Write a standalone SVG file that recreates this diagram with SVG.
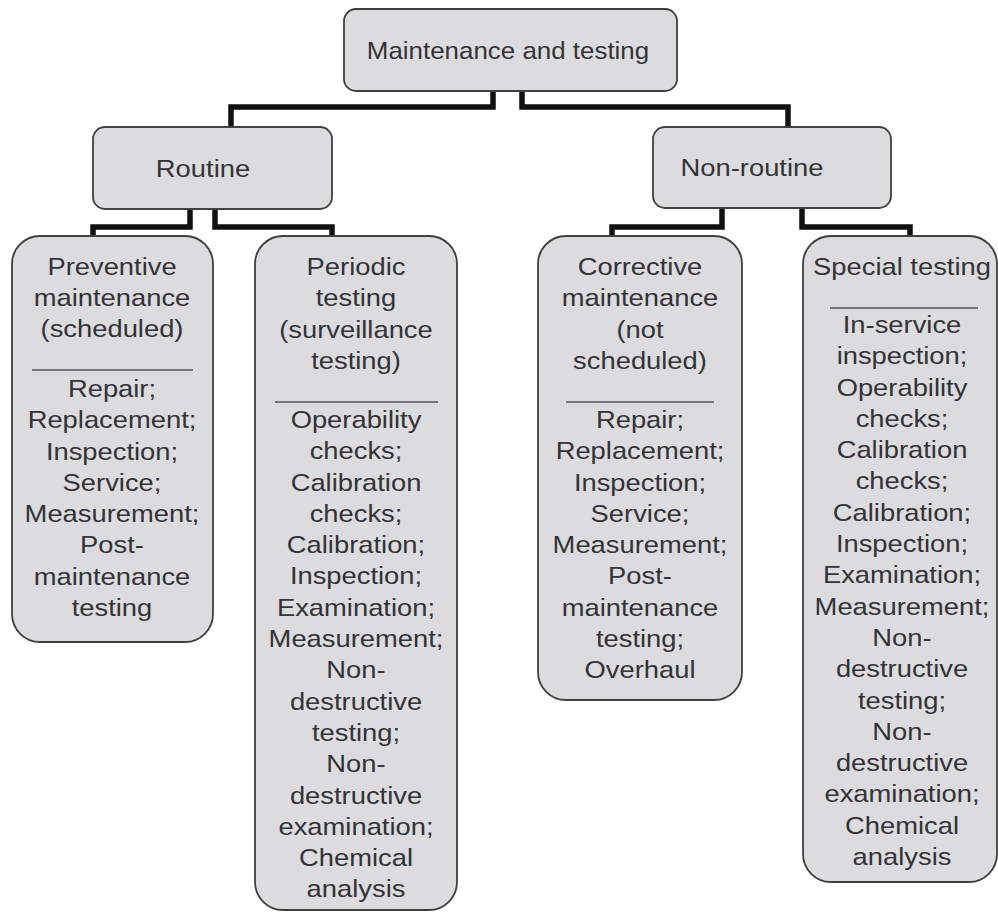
<svg xmlns="http://www.w3.org/2000/svg" width="998" height="913" viewBox="0 0 998 913">
<style>
.bg{fill:#ffffff}
.box{fill:#dcdcde;stroke:#404040;stroke-width:1.8}
.t{font-family:"Liberation Sans",Arial,sans-serif;font-size:24px;fill:#333338;text-anchor:middle}
.sep{stroke:#555;stroke-width:1.4}
.con{fill:none;stroke:#111;stroke-width:5.5;stroke-linejoin:miter}
</style>
<rect class="bg" x="0" y="0" width="998" height="913"/>
<g id="connectors">
<path class="con" d="M493,91 V107 H231 V127"/>
<path class="con" d="M522,91 V107 H788 V127"/>
<path class="con" d="M190,209 V227 H93 V236"/>
<path class="con" d="M215,209 V227 H332 V236"/>
<path class="con" d="M722,208 V227 H612 V236"/>
<path class="con" d="M802,208 V227 H910 V236"/>
</g>
<g id="top">
<rect class="box" x="344" y="9" width="333" height="82" rx="12"/>
<g transform="translate(508 0) scale(1.08 1)"><text class="t" x="0" y="59">Maintenance and testing</text></g>
</g>
<g id="routine">
<rect class="box" x="93" y="127" width="239" height="82" rx="12"/>
<g transform="translate(203 0) scale(1.14 1)"><text class="t" x="0" y="177">Routine</text></g>
</g>
<g id="nonroutine">
<rect class="box" x="653" y="127" width="238" height="81" rx="12"/>
<g transform="translate(752 0) scale(1.14 1)"><text class="t" x="0" y="176">Non-routine</text></g>
</g>
<g id="preventive">
<rect class="box" x="12" y="236" width="201" height="406" rx="28"/>
<line class="sep" x1="32" y1="370" x2="193" y2="370"/>
<g transform="translate(112 0) scale(1.14 1)">
<text class="t" x="0" y="275">Preventive</text>
<text class="t" x="0" y="306">maintenance</text>
<text class="t" x="0" y="337">(scheduled)</text>
<text class="t" x="0" y="397">Repair;</text>
<text class="t" x="0" y="428.3">Replacement;</text>
<text class="t" x="0" y="459.6">Inspection;</text>
<text class="t" x="0" y="490.9">Service;</text>
<text class="t" x="0" y="522.2">Measurement;</text>
<text class="t" x="0" y="553.5">Post-</text>
<text class="t" x="0" y="584.8">maintenance</text>
<text class="t" x="0" y="616.1">testing</text>
</g>
</g>
<g id="periodic">
<rect class="box" x="255" y="236" width="202" height="674" rx="28"/>
<line class="sep" x1="275" y1="402" x2="438" y2="402"/>
<g transform="translate(356 0) scale(1.14 1)">
<text class="t" x="0" y="275">Periodic</text>
<text class="t" x="0" y="306.3">testing</text>
<text class="t" x="0" y="337.6">(surveillance</text>
<text class="t" x="0" y="368.9">testing)</text>
<text class="t" x="0" y="428">Operability</text>
<text class="t" x="0" y="459.3">checks;</text>
<text class="t" x="0" y="490.6">Calibration</text>
<text class="t" x="0" y="521.9">checks;</text>
<text class="t" x="0" y="553.2">Calibration;</text>
<text class="t" x="0" y="584.5">Inspection;</text>
<text class="t" x="0" y="615.8">Examination;</text>
<text class="t" x="0" y="647.1">Measurement;</text>
<text class="t" x="0" y="678.4">Non-</text>
<text class="t" x="0" y="709.7">destructive</text>
<text class="t" x="0" y="741">testing;</text>
<text class="t" x="0" y="772.3">Non-</text>
<text class="t" x="0" y="803.6">destructive</text>
<text class="t" x="0" y="834.9">examination;</text>
<text class="t" x="0" y="866.2">Chemical</text>
<text class="t" x="0" y="897.5">analysis</text>
</g>
</g>
<g id="corrective">
<rect class="box" x="538" y="236" width="204" height="464" rx="28"/>
<line class="sep" x1="566" y1="402" x2="714" y2="402"/>
<g transform="translate(640 0) scale(1.14 1)">
<text class="t" x="0" y="275">Corrective</text>
<text class="t" x="0" y="306.3">maintenance</text>
<text class="t" x="0" y="337.6">(not</text>
<text class="t" x="0" y="368.9">scheduled)</text>
<text class="t" x="0" y="428">Repair;</text>
<text class="t" x="0" y="459.3">Replacement;</text>
<text class="t" x="0" y="490.6">Inspection;</text>
<text class="t" x="0" y="521.9">Service;</text>
<text class="t" x="0" y="553.2">Measurement;</text>
<text class="t" x="0" y="584.5">Post-</text>
<text class="t" x="0" y="615.8">maintenance</text>
<text class="t" x="0" y="647.1">testing;</text>
<text class="t" x="0" y="678.4">Overhaul</text>
</g>
</g>
<g id="special">
<rect class="box" x="803" y="236" width="194" height="646" rx="28"/>
<line class="sep" x1="830" y1="308" x2="978" y2="308"/>
<g transform="translate(902 0) scale(1.14 1)">
<text class="t" x="0" y="275">Special testing</text>
<text class="t" x="0" y="333">In-service</text>
<text class="t" x="0" y="364.3">inspection;</text>
<text class="t" x="0" y="395.6">Operability</text>
<text class="t" x="0" y="426.9">checks;</text>
<text class="t" x="0" y="458.2">Calibration</text>
<text class="t" x="0" y="489.5">checks;</text>
<text class="t" x="0" y="520.8">Calibration;</text>
<text class="t" x="0" y="552.1">Inspection;</text>
<text class="t" x="0" y="583.4">Examination;</text>
<text class="t" x="0" y="614.7">Measurement;</text>
<text class="t" x="0" y="646">Non-</text>
<text class="t" x="0" y="677.3">destructive</text>
<text class="t" x="0" y="708.6">testing;</text>
<text class="t" x="0" y="739.9">Non-</text>
<text class="t" x="0" y="771.2">destructive</text>
<text class="t" x="0" y="802.5">examination;</text>
<text class="t" x="0" y="833.8">Chemical</text>
<text class="t" x="0" y="865.1">analysis</text>
</g>
</g>
</svg>
